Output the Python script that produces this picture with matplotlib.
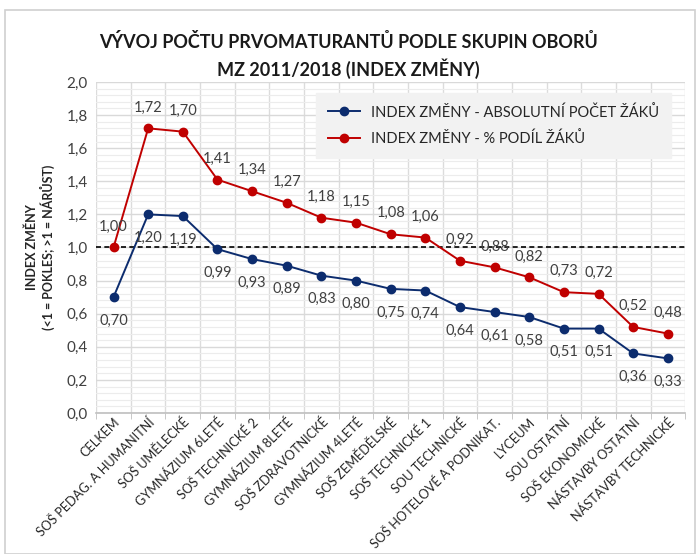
import matplotlib
matplotlib.use("Agg")
import matplotlib.pyplot as plt
from matplotlib.patches import Rectangle
import numpy as np

categories = ["CELKEM", "SOŠ PEDAG. A HUMANITNÍ", "SOŠ UMĚLECKÉ", "GYMNÁZIUM 6LETÉ",
              "SOŠ TECHNICKÉ 2", "GYMNÁZIUM 8LETÉ", "SOŠ ZDRAVOTNICKÉ", "GYMNÁZIUM 4LETÉ",
              "SOŠ ZEMĚDĚLSKÉ", "SOŠ TECHNICKÉ 1", "SOU TECHNICKÉ", "SOŠ HOTELOVÉ A PODNIKAT.",
              "LYCEUM", "SOU OSTATNÍ", "SOŠ EKONOMICKÉ", "NÁSTAVBY OSTATNÍ", "NÁSTAVBY TECHNICKÉ"]
abs_index = [0.70, 1.20, 1.19, 0.99, 0.93, 0.89, 0.83, 0.80, 0.75, 0.74, 0.64, 0.61, 0.58, 0.51, 0.51, 0.36, 0.33]
pct_index = [1.00, 1.72, 1.70, 1.41, 1.34, 1.27, 1.18, 1.15, 1.08, 1.06, 0.92, 0.88, 0.82, 0.73, 0.72, 0.52, 0.48]
series_names = ["INDEX ZMĚNY - ABSOLUTNÍ POČET ŽÁKŮ", "INDEX ZMĚNY - % PODÍL ŽÁKŮ"]
title = "VÝVOJ POČTU PRVOMATURANTŮ PODLE SKUPIN OBORŮ\nMZ 2011/2018 (INDEX ZMĚNY)"
ylabel = "INDEX ZMĚNY\n(<1 = POKLES; >1 = NÁRŮST)"

plt.rcParams['font.family'] = ['Lato', 'DejaVu Sans']

fig = plt.figure(figsize=(6.97, 5.54), dpi=100)
ax = fig.add_axes([0.138, 0.2545, 0.845, 0.5975])

# outer border
fig.patches.append(Rectangle((0.007, 0.0), 0.99, 0.982, transform=fig.transFigure,
                             fill=False, edgecolor="#d0d0d0", lw=1.2))

x = np.arange(len(categories))
blue = "#0c2c6e"
red = "#c00000"

ax.set_xlim(-0.5, len(categories) - 0.5)
ax.set_ylim(0, 2.0)
ax.set_yticks(np.arange(0, 2.01, 0.2))
ax.set_yticklabels([f"{v:.1f}".replace(".", ",") for v in np.arange(0, 2.01, 0.2)], fontsize=11, color="#404040")
ax.set_yticks(np.arange(0, 2.01, 0.04), minor=True)
ax.grid(axis="y", which="major", color="#d9d9d9", lw=1.0)
ax.grid(axis="y", which="minor", color="#ececec", lw=0.8)
ax.set_xticks(x)
ax.set_xticklabels(categories, rotation=45, ha="right", rotation_mode="anchor", fontsize=9.2, color="#262626")
ax.set_xticks(np.arange(-0.5, len(categories), 1), minor=True)
ax.grid(axis="x", which="minor", color="#dcdcdc", lw=1.0)
ax.tick_params(axis="x", which="major", length=0, pad=2)
ax.tick_params(axis="x", which="minor", length=4, color="#bfbfbf")
ax.tick_params(axis="y", which="both", length=0, pad=6)
ax.set_axisbelow(True)
for s in ["top", "right", "left"]:
    ax.spines[s].set_visible(False)
ax.spines["bottom"].set_color("#bfbfbf")
ax.spines["bottom"].set_linewidth(1.2)

ax.axhline(1.0, color="black", ls=(0, (3, 2)), lw=1.2, zorder=2)

ax.plot(x, abs_index, color=blue, marker="o", ms=6, lw=1.4, label=series_names[0], zorder=3)
ax.plot(x, pct_index, color=red, marker="o", ms=6, lw=1.4, label=series_names[1], zorder=3)

for xi, v in zip(x, abs_index):
    ax.annotate(f"{v:.2f}".replace(".", ","), (xi, v), xytext=(0, -12), textcoords="offset points",
                ha="center", va="top", fontsize=10.5, color="#404040")
for xi, v in zip(x, pct_index):
    ax.annotate(f"{v:.2f}".replace(".", ","), (xi, v), xytext=(0, 10), textcoords="offset points",
                ha="center", va="bottom", fontsize=10.5, color="#404040")

leg = ax.legend(loc="upper left", bbox_to_anchor=(0.373, 0.967), borderaxespad=0, frameon=True, fancybox=False,
                facecolor="#f2f2f2", edgecolor="#f2f2f2", fontsize=10.5, handlelength=2.2,
                borderpad=0.8, labelspacing=0.8, framealpha=1)
for t in leg.get_texts():
    t.set_color("#262626")

ax.set_ylabel(ylabel, fontsize=9, fontweight="bold", color="#262626", labelpad=8)
fig.suptitle(title, fontsize=13, fontweight="bold", y=0.94, color="#1a1a1a", linespacing=1.4)

fig.savefig("out.png", dpi=100)
